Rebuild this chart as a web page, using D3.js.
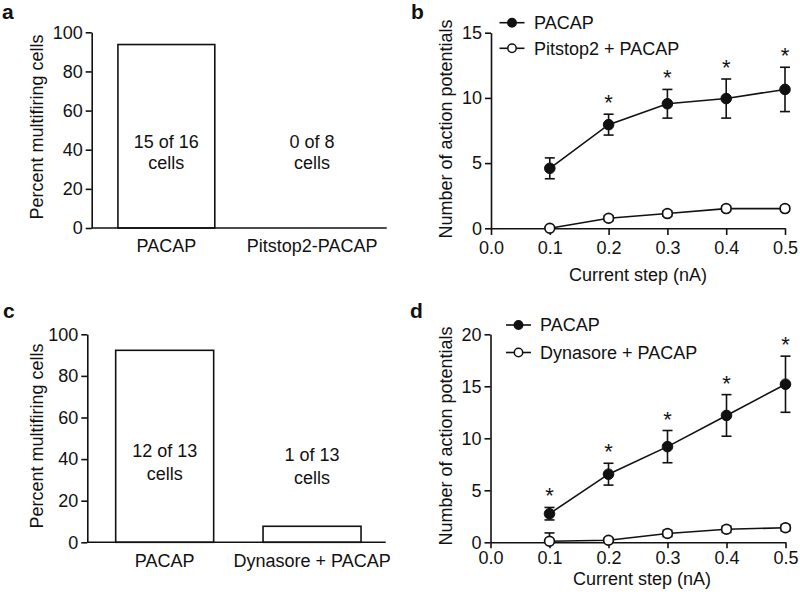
<!DOCTYPE html>
<html>
<head>
<meta charset="utf-8">
<script src="https://cdn.jsdelivr.net/npm/d3@7"></script>
<style>
  html, body { margin: 0; padding: 0; background: #fff; }
  svg { display: block; }
  text { font-family: "Liberation Sans", Arial, Helvetica, sans-serif; fill: #111; }
</style>
</head>
<body>
<script>
// ---------------- DATA ----------------
const barTicks = [0, 20, 40, 60, 80, 100];

const catsA = ["PACAP", "Pitstop2-PACAP"];
const valsA = [93.75, 0];
const notesA = [["15 of 16", "cells"], ["0 of 8", "cells"]];

const catsC = ["PACAP", "Dynasore + PACAP"];
const valsC = [92.3, 7.7];
const notesC = [["12 of 13", "cells"], ["1 of 13", "cells"]];

const currentSteps = [0.1, 0.2, 0.3, 0.4, 0.5];
const xTicks = [0.0, 0.1, 0.2, 0.3, 0.4, 0.5];

const yTicksB = [0, 5, 10, 15];
const pacapB = [4.6, 7.95, 9.55, 9.95, 10.65];
const pacapErrB = [0.8, 0.8, 1.1, 1.5, 1.7];
const pitstopB = [0.0, 0.77, 1.13, 1.51, 1.51];
const pitstopErrB = [0.1, 0.2, 0.2, 0.2, 0.2];
const sigB = [false, true, true, true, true];
const legendB = ["PACAP", "Pitstop2 + PACAP"];

const yTicksD = [0, 5, 10, 15, 20];
const pacapD = [2.75, 6.55, 9.2, 12.2, 15.2];
const pacapErrD = [0.6, 1.05, 1.55, 2.0, 2.7];
const dynasoreD = [0.1, 0.2, 0.85, 1.25, 1.4];
const dynasoreErrD = [0.8, 0.2, 0.3, 0.3, 0.3];
const sigD = [true, true, true, true, true];
const legendD = ["PACAP", "Dynasore + PACAP"];

// ---------------- DRAWING ----------------
const FS = 18;
const SW = 1.6;
const svg = d3.select("body").append("svg").attr("width", 800).attr("height", 601);

function styleAxis(g) {
  g.attr("font-size", FS).attr("font-family", null);
  g.selectAll("path.domain").attr("stroke", "#111").attr("stroke-width", SW);
  g.selectAll(".tick line").attr("stroke", "#111").attr("stroke-width", SW);
  g.selectAll(".tick text").attr("fill", "#111");
}

function panelLetter(x, y, s) {
  svg.append("text").attr("x", x).attr("y", y).attr("font-size", 21)
    .attr("font-weight", "bold").text(s);
}

function yTitle(cx, cy, s) {
  svg.append("text").attr("transform", `translate(${cx},${cy}) rotate(-90)`)
    .attr("text-anchor", "middle").attr("dy", "0.35em").attr("font-size", FS).text(s);
}

function barPanel(cfg) {
  const x = d3.scaleBand().domain(cfg.cats).range([cfg.x0, cfg.x1])
    .paddingInner(0.335).paddingOuter(0.18).align(cfg.align);
  const y = d3.scaleLinear().domain([0, 100]).range([cfg.yb, cfg.yt]);
  const g = svg.append("g");

  g.selectAll("rect").data(cfg.vals.map((v, i) => ({ v, c: cfg.cats[i] })).filter(d => d.v > 0))
    .join("rect")
    .attr("x", d => x(d.c)).attr("y", d => y(d.v))
    .attr("width", x.bandwidth()).attr("height", d => y(0) - y(d.v))
    .attr("fill", "#fff").attr("stroke", "#111").attr("stroke-width", SW);

  cfg.notes.forEach((lines, i) => {
    const cx = x(cfg.cats[i]) + x.bandwidth() / 2;
    lines.forEach((t, j) => {
      g.append("text").attr("x", cx).attr("y", y(44) + cfg.noteOffset[i] + j * cfg.lineGap)
        .attr("dy", "0.35em").attr("text-anchor", "middle").attr("font-size", FS).text(t);
    });
  });

  const ya = g.append("g").attr("transform", `translate(${cfg.x0},0)`)
    .call(d3.axisLeft(y).tickValues(barTicks).tickSize(6).tickPadding(3).tickSizeOuter(0));
  styleAxis(ya);
  const xa = g.append("g").attr("transform", `translate(0,${cfg.yb})`)
    .call(d3.axisBottom(x).tickSize(0).tickPadding(11.5).tickSizeOuter(0));
  styleAxis(xa);
  xa.selectAll("path.domain").attr("d", `M${cfg.x0},0H${cfg.x1}`);

  yTitle(cfg.titleX, cfg.titleY, "Percent multifiring cells");
}

function linePanel(cfg) {
  const x = d3.scaleLinear().domain([0, 0.5]).range([cfg.x0, cfg.x1]);
  const y = d3.scaleLinear().domain([0, cfg.ymax]).range([cfg.yb, cfg.yt]);
  const g = svg.append("g");

  const line = d3.line().x((d, i) => x(currentSteps[i])).y(d => y(d));
  const cap = 5;

  function series(vals, errs, filled) {
    vals.forEach((v, i) => {
      const cx = x(currentSteps[i]);
      const hi = y(v + errs[i]);
      const lo = y(Math.max(0, v - errs[i]));
      g.append("line").attr("x1", cx).attr("x2", cx).attr("y1", hi).attr("y2", lo)
        .attr("stroke", "#111").attr("stroke-width", SW);
      [hi, lo].forEach(yy => g.append("line").attr("x1", cx - cap).attr("x2", cx + cap)
        .attr("y1", yy).attr("y2", yy).attr("stroke", "#111").attr("stroke-width", SW));
    });
    g.append("path").datum(vals).attr("d", line).attr("fill", "none")
      .attr("stroke", "#111").attr("stroke-width", SW);
    g.selectAll(null).data(vals).join("circle")
      .attr("cx", (d, i) => x(currentSteps[i])).attr("cy", d => y(d))
      .attr("r", filled ? 5.3 : 4.9)
      .attr("fill", filled ? "#111" : "#fff").attr("stroke", "#111").attr("stroke-width", filled ? 1 : 1.7);
  }

  const ya = g.append("g").attr("transform", `translate(${cfg.x0},0)`)
    .call(d3.axisLeft(y).tickValues(cfg.yTicks).tickSize(6).tickPadding(3).tickSizeOuter(0));
  styleAxis(ya);
  const xa = g.append("g").attr("transform", `translate(0,${cfg.yb})`)
    .call(d3.axisBottom(x).tickValues(xTicks).tickFormat(d3.format(".1f"))
      .tickSize(cfg.xTickSize).tickPadding(cfg.xPad).tickSizeOuter(0));
  styleAxis(xa);

  series(cfg.open, cfg.openErr, false);
  series(cfg.filled, cfg.filledErr, true);

  cfg.sig.forEach((s, i) => {
    if (!s) return;
    g.append("text").attr("x", x(currentSteps[i]))
      .attr("y", y(cfg.filled[i] + cfg.filledErr[i]) - 4)
      .attr("text-anchor", "middle").attr("font-size", 22).text("*");
  });

  cfg.legend.forEach((t, i) => {
    const ly = cfg.legY[i];
    g.append("line").attr("x1", cfg.legX0).attr("x2", cfg.legX0 + 25).attr("y1", ly).attr("y2", ly)
      .attr("stroke", "#111").attr("stroke-width", SW);
    g.append("circle").attr("cx", cfg.legX0 + 12.5).attr("cy", ly).attr("r", 4.2)
      .attr("fill", i === 0 ? "#111" : "#fff").attr("stroke", "#111").attr("stroke-width", 1.5);
    g.append("text").attr("x", cfg.legTextX).attr("y", ly).attr("dy", "0.35em")
      .attr("font-size", FS).text(t);
  });

  svg.append("text").attr("x", (cfg.x0 + cfg.x1) / 2 + cfg.xTitleShift).attr("y", cfg.yb + cfg.xTitleOff)
    .attr("dy", "0.35em").attr("text-anchor", "middle").attr("font-size", FS).text("Current step (nA)");
  yTitle(cfg.titleX, cfg.titleY, "Number of action potentials");
}

// Panel a
panelLetter(2, 19, "a");
barPanel({ cats: catsA, vals: valsA, notes: notesA, x0: 91.7, x1: 386.7, yb: 228, yt: 32.3,
  align: 0.5, noteOffset: [0, 0], lineGap: 21, titleX: 36.7, titleY: 127 });

// Panel c
panelLetter(3, 318, "c");
barPanel({ cats: catsC, vals: valsC, notes: notesC, x0: 87.3, x1: 385.7, yb: 542.3, yt: 334.3,
  align: 0.535, noteOffset: [0, 4], lineGap: 23, titleX: 36.7, titleY: 436 });

// Panel b
panelLetter(411, 19, "b");
linePanel({ x0: 491, x1: 785, yb: 228.3, yt: 32.7, ymax: 15, yTicks: yTicksB,
  filled: pacapB, filledErr: pacapErrB, open: pitstopB, openErr: pitstopErrB, sig: sigB,
  legend: legendB, legY: [22.7, 48.3], legX0: 499.5, legTextX: 534,
  xTickSize: 6.7, xPad: 6.5, xTitleOff: 46.5, xTitleShift: 0, titleX: 445.7, titleY: 129 });

// Panel d
panelLetter(410, 318, "d");
linePanel({ x0: 490.5, x1: 785.5, yb: 542.3, yt: 334.3, ymax: 20, yTicks: yTicksD,
  filled: pacapD, filledErr: pacapErrD, open: dynasoreD, openErr: dynasoreErrD, sig: sigD,
  legend: legendD, legY: [325, 352.5], legX0: 506, legTextX: 540,
  xTickSize: 6, xPad: 3, xTitleOff: 36.5, xTitleShift: 4, titleX: 445.7, titleY: 436 });
</script>
</body>
</html>
